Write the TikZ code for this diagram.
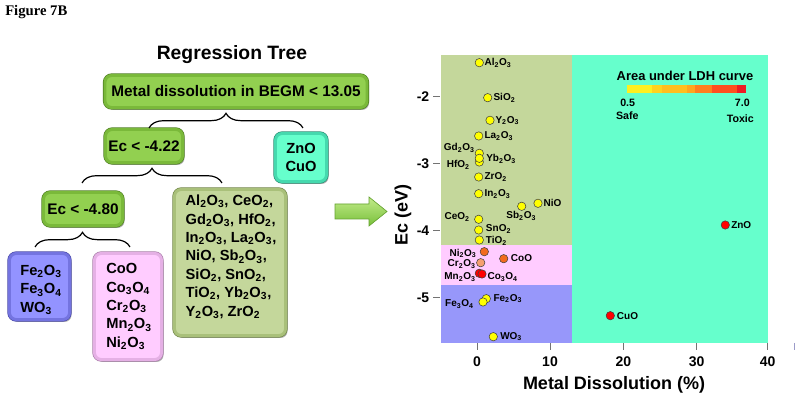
\documentclass[tikz,border=0pt]{standalone}
\usepackage{fontspec}
\setmainfont{Liberation Sans}
\newfontfamily\timesfont{Liberation Serif}
\usetikzlibrary{decorations.pathreplacing,shadows}
\newcommand\sbs[1]{\textsubscript{#1}}
\definecolor{gmain}{HTML}{92D050}
\definecolor{gband}{HTML}{7AB93A}
\definecolor{gdark}{HTML}{4F7F22}
\definecolor{cmain}{HTML}{66FFCC}
\definecolor{cband}{HTML}{45D9AE}
\definecolor{cdark}{HTML}{2A8C72}
\definecolor{omain}{HTML}{C4D79B}
\definecolor{oband}{HTML}{A9C07A}
\definecolor{odark}{HTML}{6F8445}
\definecolor{bmain}{HTML}{9393FF}
\definecolor{bband}{HTML}{7474E0}
\definecolor{bdark}{HTML}{4848A8}
\definecolor{pmain}{HTML}{FFCCFF}
\definecolor{pband}{HTML}{E5B0E5}
\definecolor{pdark}{HTML}{A87CA8}
\definecolor{regblue}{HTML}{9797FA}
\definecolor{ptyellow}{HTML}{FFFF00}
\definecolor{ptorange}{HTML}{F26B1D}
\definecolor{ptsalmon}{HTML}{F5A070}
\definecolor{ptred}{HTML}{FF0000}
\definecolor{arrtop}{HTML}{C2EB8A}
\definecolor{arrbot}{HTML}{78C03A}
\tikzset{
  boxbase/.style={rounded corners=5pt, inner sep=0pt,
    drop shadow={shadow xshift=1.5pt, shadow yshift=-1.8pt, opacity=0.3, fill=black}},
  greenbox/.style={boxbase, fill=gmain, draw=gband, line width=2.2pt, preaction={draw=gdark, line width=3.2pt}},
  cyanbox/.style={boxbase, fill=cmain, draw=cband, line width=2.2pt, preaction={draw=cdark, line width=3.2pt}},
  olivebox/.style={boxbase, fill=omain, draw=oband, line width=2.2pt, preaction={draw=odark, line width=3.2pt}},
  bluebox/.style={boxbase, fill=bmain, draw=bband, line width=2.2pt, preaction={draw=bdark, line width=3.2pt}},
  pinkbox/.style={boxbase, fill=pmain, draw=pband, line width=2.2pt, preaction={draw=pdark, line width=3.2pt}},
  boxtext/.style={font=\bfseries\fontsize{11}{13.8}\selectfont, align=left, inner sep=0pt},
  bracket/.style={decorate, decoration={brace, amplitude=11pt}, line width=0.9pt},
  datapt/.style={circle, draw=black!75, line width=0.4pt, minimum size=6.3pt, inner sep=0pt},
  lbl/.style={font=\bfseries\fontsize{7.5}{8}\selectfont, inner sep=0pt},
  ticklbl/.style={font=\bfseries\fontsize{10.5}{12}\selectfont, inner sep=0pt},
  tickmark/.style={draw=black!55, line width=0.7pt},
  axislbl/.style={font=\bfseries\fontsize{13.5}{15}\selectfont, inner sep=0pt},
  legtext/.style={font=\bfseries\fontsize{8}{9}\selectfont, inner sep=0pt}
}
\begin{document}
\begin{tikzpicture}[x=0.75pt,y=-0.75pt]
\useasboundingbox (0,0) rectangle (800,402);
\fill[white] (0,0) rectangle (800,402);

% ---------- titles ----------
\node[anchor=base west, inner sep=0pt, font=\timesfont\bfseries\fontsize{11}{12}\selectfont] (fig) at (5,15.5) {Figure 7B};
\node[anchor=base, inner sep=0pt, font=\bfseries\fontsize{14.5}{16}\selectfont] (title) at (232,59.3) {Regression Tree};

% ---------- tree boxes ----------
\node[greenbox, minimum width=196.5pt, minimum height=24pt, font=\bfseries\fontsize{11.5}{13}\selectfont] (top) at (236,91.5) {Metal dissolution in BEGM < 13.05};
\node[greenbox, minimum width=57.75pt, minimum height=24.75pt, font=\bfseries\fontsize{11.5}{13}\selectfont] (ecA) at (144,146) {Ec < -4.22};
\node[cyanbox, minimum width=38.25pt, minimum height=36pt, font=\bfseries\fontsize{11}{13.8}\selectfont, align=center] (zn) at (301,157.5) {ZnO\\CuO};
\node[greenbox, minimum width=59.25pt, minimum height=24.75pt, font=\bfseries\fontsize{11.5}{13}\selectfont] (ecB) at (83,209) {Ec < -4.80};
\node[olivebox, minimum width=83.25pt, minimum height=109.5pt] (big) at (230,262.5) {};
\node[boxtext] (bigtext) at (231,256.7) {Al\sbs2O\sbs3, CeO\sbs2,\\Gd\sbs2O\sbs3, HfO\sbs2,\\In\sbs2O\sbs3, La\sbs2O\sbs3,\\NiO, Sb\sbs2O\sbs3,\\SiO\sbs2, SnO\sbs2,\\TiO\sbs2, Yb\sbs2O\sbs3,\\Y\sbs2O\sbs3, ZrO\sbs2};
\node[bluebox, minimum width=45pt, minimum height=49.5pt] (fe) at (39.5,286.5) {};
\node[boxtext] (fetext) at (41,290) {Fe\sbs2O\sbs3\\Fe\sbs3O\sbs4\\WO\sbs3};
\node[pinkbox, minimum width=50.25pt, minimum height=79.5pt] (co) at (128,306.5) {};
\node[boxtext] (cotext) at (129,306.5) {CoO\\Co\sbs3O\sbs4\\Cr\sbs2O\sbs3\\Mn\sbs2O\sbs3\\Ni\sbs2O\sbs3};

% ---------- braces ----------
\coordinate (b1l) at (149,128); \coordinate (b1r) at (303,128);
\coordinate (b2l) at (82,183);  \coordinate (b2r) at (222,183);
\coordinate (b3l) at (35,247);  \coordinate (b3r) at (130,247);
\draw[bracket] (b1l) -- (b1r);
\draw[bracket] (b2l) -- (b2r);
\draw[bracket] (b3l) -- (b3r);

% ---------- block arrow ----------
\shade[top color=arrtop, bottom color=arrbot, draw=arrbot!85!black, line width=0.5pt]
  (335,204) -- (369,204) -- (369,197) -- (387,211.5) -- (369,226) -- (369,219) -- (335,219) -- cycle;

% ---------- plot regions ----------
\fill[omain] (441,55) rectangle (571.7,245);
\fill[pmain] (441,245) rectangle (571.7,285);
\fill[regblue] (441,285) rectangle (571.7,343);
\fill[cmain] (571.7,55) rectangle (767.7,343);

% ---------- ticks ----------
\foreach \yy/\tl in {96.7/-2,163.3/-3,230.7/-4,297.7/-5}{
  \draw[tickmark] (433,\yy) -- (440,\yy);
  \node[ticklbl, anchor=east] at (429.5,\yy) {\tl};
}
\foreach \xx/\tl in {477/0,550/10,623.3/20,696.7/30,767.7/40}{
  \draw[tickmark] (\xx,343) -- (\xx,350);
  \node[ticklbl] at (\xx,362) {\tl};
}
\draw[draw=blue!30!gray!60, line width=0.6pt] (794,343) -- (794,350);
\node[axislbl, rotate=90] (ylab) at (403,215) {Ec (eV)};
\node[axislbl] (xlab) at (614,385) {Metal Dissolution (\%)};

% ---------- legend ----------
\node[font=\bfseries\fontsize{9.7}{11}\selectfont, inner sep=0pt] (legt) at (685,76) {Area under LDH curve};
\fill[fill={rgb,255:red,255;green,239;blue,32}] (626.7,85) rectangle (651.7,92.7);
\fill[fill={rgb,255:red,255;green,210;blue,30}] (651.7,85) rectangle (661.7,92.7);
\fill[fill={rgb,255:red,255;green,190;blue,30}] (661.7,85) rectangle (686.7,92.7);
\fill[fill={rgb,255:red,255;green,165;blue,30}] (686.7,85) rectangle (695,92.7);
\fill[fill={rgb,255:red,255;green,126;blue,30}] (695,85) rectangle (711.7,92.7);
\fill[fill={rgb,255:red,255;green,78;blue,30}] (711.7,85) rectangle (736.7,92.7);
\fill[fill={rgb,255:red,238;green,28;blue,36}] (736.7,85) rectangle (745.7,92.7);
\node[legtext] (l05) at (627.7,102.7) {0.5};
\node[legtext] (lsafe) at (627.3,116) {Safe};
\node[legtext] (l70) at (742.3,102.7) {7.0};
\node[legtext] (ltox) at (740.3,118.7) {Toxic};

% ---------- data points ----------
\node[datapt, fill=ptyellow] (pAl) at (479.3,62.7) {};
\node[datapt, fill=ptyellow] (pSi) at (487.7,97.7) {};
\node[datapt, fill=ptyellow] (pY) at (490,120.3) {};
\node[datapt, fill=ptyellow] (pLa) at (478.7,136) {};
\node[datapt, fill=ptyellow] (pHf) at (479.3,162) {};
\node[datapt, fill=ptyellow] (pGd) at (479.3,153.3) {};
\node[datapt, fill=ptyellow] (pYb) at (479.3,158.3) {};
\node[datapt, fill=ptyellow] (pZr) at (478.7,177) {};
\node[datapt, fill=ptyellow] (pIn) at (478.7,193.7) {};
\node[datapt, fill=ptyellow] (pSb) at (521.7,206.3) {};
\node[datapt, fill=ptyellow] (pNi) at (538,203.3) {};
\node[datapt, fill=ptyellow] (pCe) at (478.7,219.3) {};
\node[datapt, fill=ptyellow] (pSn) at (478.7,230) {};
\node[datapt, fill=ptyellow] (pTi) at (479.3,240) {};
\node[datapt, fill=ptorange] (pNiII) at (484.3,251.7) {};
\node[datapt, fill=ptorange] (pCoO) at (503.7,258.7) {};
\node[datapt, fill=ptsalmon] (pCr) at (480.7,262.7) {};
\node[datapt, fill=ptred] (pMn) at (479.3,273.3) {};
\node[datapt, fill=ptred] (pCoIV) at (482,274) {};
\node[datapt, fill=ptyellow] (pFeIII) at (486.3,298.7) {};
\node[datapt, fill=ptyellow] (pFeIV) at (483,302) {};
\node[datapt, fill=ptyellow] (pW) at (493.3,336.7) {};
\node[datapt, fill=ptred] (pZn) at (725.3,225) {};
\node[datapt, fill=ptred] (pCu) at (610.3,315.7) {};

% ---------- point labels ----------
\node[lbl, anchor=west] (tAl) at (484.3,63) {Al\sbs2O\sbs3};
\node[lbl, anchor=west] (tSi) at (493.3,98) {SiO\sbs2};
\node[lbl, anchor=west] (tY) at (495.3,120.7) {Y\sbs2O\sbs3};
\node[lbl, anchor=west] (tLa) at (484.3,136) {La\sbs2O\sbs3};
\node[lbl, anchor=east] (tGd) at (475,147.7) {Gd\sbs2O\sbs3};
\node[lbl, anchor=west] (tYb) at (486,158.7) {Yb\sbs2O\sbs3};
\node[lbl, anchor=east] (tHf) at (470,165) {HfO\sbs2};
\node[lbl, anchor=west] (tZr) at (484.3,177) {ZrO\sbs2};
\node[lbl, anchor=west] (tIn) at (484.3,194) {In\sbs2O\sbs3};
\node[lbl, anchor=west] (tNi) at (543.3,203) {NiO};
\node[lbl] (tSb) at (521.3,216) {Sb\sbs2O\sbs3};
\node[lbl, anchor=east] (tCe) at (470,217.3) {CeO\sbs2};
\node[lbl, anchor=west] (tSn) at (485.7,229) {SnO\sbs2};
\node[lbl, anchor=west] (tTi) at (485.7,240.7) {TiO\sbs2};
\node[lbl, anchor=east] (tNiII) at (476.7,253.3) {Ni\sbs2O\sbs3};
\node[lbl, anchor=west] (tCoO) at (510.7,257.7) {CoO};
\node[lbl, anchor=east] (tCr) at (476,264.3) {Cr\sbs2O\sbs3};
\node[lbl, anchor=east] (tMn) at (476,277.3) {Mn\sbs2O\sbs3};
\node[lbl, anchor=west] (tCoIV) at (487.3,277.3) {Co\sbs3O\sbs4};
\node[lbl, anchor=west] (tFeIII) at (493.3,298.7) {Fe\sbs2O\sbs3};
\node[lbl, anchor=east] (tFeIV) at (474,304) {Fe\sbs3O\sbs4};
\node[lbl, anchor=west] (tW) at (500,336.7) {WO\sbs3};
\node[lbl, anchor=west] (tZn) at (731,225) {ZnO};
\node[lbl, anchor=west] (tCu) at (616.7,315.7) {CuO};
\end{tikzpicture}
\end{document}
